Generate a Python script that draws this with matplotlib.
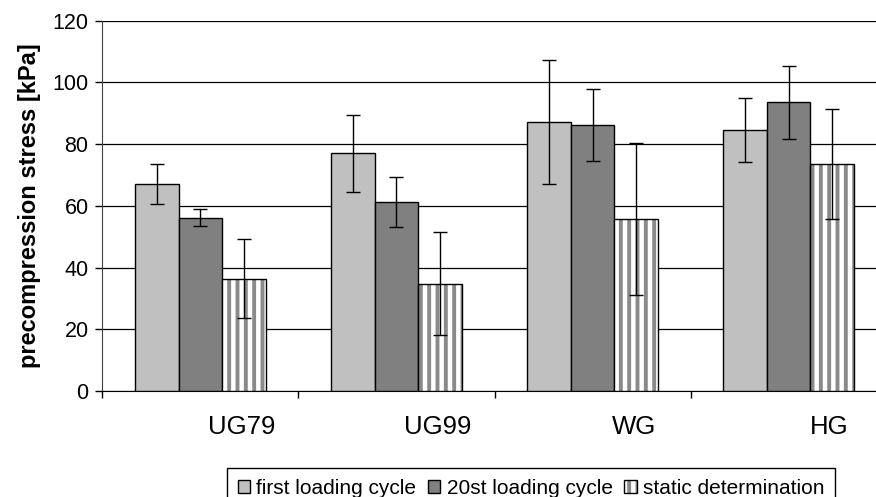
import numpy as np
import matplotlib
matplotlib.use("Agg")
import matplotlib.pyplot as plt
from matplotlib.legend_handler import HandlerTuple

plt.rcParams["font.family"] = ["Liberation Sans", "DejaVu Sans"]
plt.rcParams["hatch.linewidth"] = 2.8

# soil groups and precompression stress (mean, standard deviation) in kPa
groups = ["UG79", "UG99", "WG", "HG"]
first_cycle = [67.1, 77.0, 87.3, 84.6]
first_cycle_sd = [6.5, 12.4, 20.1, 10.3]
cycle_20 = [56.2, 61.1, 86.3, 93.5]
cycle_20_sd = [2.7, 8.1, 11.7, 11.9]
static_det = [36.4, 34.7, 55.7, 73.7]
static_det_sd = [12.7, 16.7, 24.7, 17.8]
series_names = ["first loading cycle", "20st loading cycle", "static determination"]

fig = plt.figure(figsize=(8.76, 4.97), dpi=100)
ax = fig.add_axes([0.117, 0.2133, 0.895, 0.745])

x = np.arange(len(groups))
w = 1 / 4.5
err_kw = dict(ecolor="black", elinewidth=1.0, capsize=5.0, capthick=1.0)

b1 = ax.bar(x - w, first_cycle, w, color="#c0c0c0", edgecolor="black",
            linewidth=1.0, yerr=first_cycle_sd, error_kw=err_kw, zorder=3)
b2 = ax.bar(x, cycle_20, w, color="#808080", edgecolor="black",
            linewidth=1.0, yerr=cycle_20_sd, error_kw=err_kw, zorder=3)
# striped bars: hatch drawn in grey, outline laid over it in black
b3 = ax.bar(x + w, static_det, w, color="white", edgecolor="#8a8a8a",
            linewidth=0, hatch="||", zorder=3)
b3o = ax.bar(x + w, static_det, w, color="none", edgecolor="black",
             linewidth=1.0, zorder=4)
ax.errorbar(x + w, static_det, yerr=static_det_sd, fmt="none", zorder=5, **err_kw)

ax.set_xlim(-0.5, len(groups) - 0.5)
ax.set_ylim(0, 120)
ax.set_yticks(np.arange(0, 121, 20))
ax.set_xticks(np.arange(-0.5, len(groups), 1.0))
ax.set_xticklabels([])
ax.set_xticks(x + 0.21, minor=True)
ax.set_xticklabels(groups, minor=True)
ax.tick_params(axis="x", which="minor", length=0, pad=17, labelsize=18.5)
ax.tick_params(axis="x", which="major", length=5, width=1, direction="out")
ax.tick_params(axis="y", length=5, width=1, direction="out", labelsize=15.5, pad=5)

ax.yaxis.grid(True, color="black", linewidth=0.9, zorder=0)
ax.set_axisbelow(True)
for side in ["top", "right"]:
    ax.spines[side].set_visible(False)
ax.spines["left"].set_color("#404040")
ax.spines["bottom"].set_color("black")

ax.set_ylabel("precompression stress [kPa]", fontsize=17, fontweight="bold",
              labelpad=8)

handles = [b1[0], b2[0], (b3[0], b3o[0])]
leg = fig.legend(handles, series_names, loc="center",
                 bbox_to_anchor=(531 / 876, 1 - 488 / 497), ncol=3,
                 fontsize=15, frameon=True, fancybox=False, framealpha=1,
                 edgecolor="black", handlelength=0.6, handleheight=0.6,
                 handletextpad=0.3, columnspacing=0.55, borderpad=0.5,
                 borderaxespad=0,
                 handler_map={tuple: HandlerTuple(ndivide=1, pad=0)})
leg.get_frame().set_linewidth(1.0)

fig.savefig("out.png", dpi=100)
